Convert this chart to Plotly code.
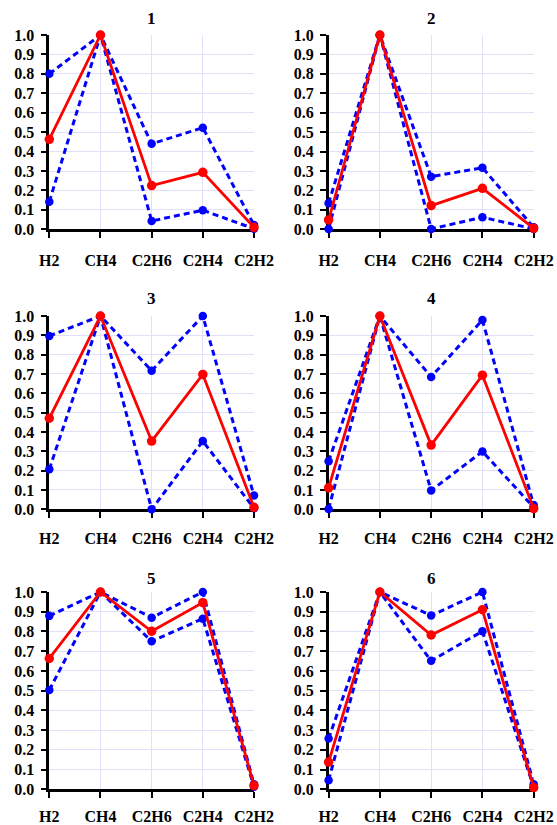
import plotly.graph_objects as go

categories = ["H2", "CH4", "C2H6", "C2H4", "C2H2"]
panel_titles = ["1", "2", "3", "4", "5", "6"]
y_ticks = [0.0, 0.1, 0.2, 0.3, 0.4, 0.5, 0.6, 0.7, 0.8, 0.9, 1.0]

# panel 1
mean_1 = [0.463, 1.0, 0.225, 0.293, 0.010]
upper_1 = [0.800, 1.0, 0.440, 0.523, 0.022]
lower_1 = [0.142, 1.0, 0.043, 0.098, 0.003]
# panel 2
mean_2 = [0.048, 1.0, 0.122, 0.211, 0.005]
upper_2 = [0.134, 1.0, 0.271, 0.317, 0.010]
lower_2 = [0.002, 1.0, 0.002, 0.062, 0.002]
# panel 3
mean_3 = [0.471, 1.0, 0.353, 0.698, 0.010]
upper_3 = [0.897, 1.0, 0.717, 1.000, 0.071]
lower_3 = [0.207, 1.0, 0.000, 0.353, 0.005]
# panel 4
mean_4 = [0.111, 1.0, 0.332, 0.694, 0.004]
upper_4 = [0.249, 1.0, 0.685, 0.979, 0.022]
lower_4 = [0.002, 1.0, 0.097, 0.299, 0.010]
# panel 5
mean_5 = [0.663, 1.0, 0.801, 0.946, 0.019]
upper_5 = [0.879, 1.0, 0.870, 1.000, 0.025]
lower_5 = [0.503, 1.0, 0.750, 0.865, 0.013]
# panel 6
mean_6 = [0.138, 1.0, 0.782, 0.910, 0.009]
upper_6 = [0.257, 1.0, 0.881, 1.000, 0.026]
lower_6 = [0.046, 1.0, 0.651, 0.801, 0.010]

panels = [
    (mean_1, upper_1, lower_1), (mean_2, upper_2, lower_2),
    (mean_3, upper_3, lower_3), (mean_4, upper_4, lower_4),
    (mean_5, upper_5, lower_5), (mean_6, upper_6, lower_6),
]

W, H = 557, 825
col_px = [(49.3, 254.0), (328.6, 533.7)]
row_px = [(35.0, 229.3), (316.0, 509.3), (592.0, 789.3)]
title_y_px = [18, 298, 578]
label_standoff = [9, 7, 5]

FONT = "Liberation Serif, Times New Roman, serif"
GRID = "#e0e0fa"

fig = go.Figure()
layout = dict(
    template="none",
    width=W, height=H, margin=dict(l=0, r=0, t=0, b=0, pad=0, autoexpand=False),
    paper_bgcolor="white", plot_bgcolor="white", showlegend=False,
    font=dict(family=FONT, size=16, color="black"),
    annotations=[],
)

for i, (mean, upper, lower) in enumerate(panels):
    r, c = divmod(i, 2)
    n = i + 1
    xa = "x" if n == 1 else f"x{n}"
    ya = "y" if n == 1 else f"y{n}"
    for vals in (upper, lower):
        fig.add_trace(go.Scatter(
            x=categories, y=vals, xaxis=xa, yaxis=ya, mode="lines+markers",
            line=dict(color="#0000ff", width=3, dash="6px,4px"),
            marker=dict(color="#0000ff", size=8.5, line=dict(width=0)),
            cliponaxis=False,
        ))
    fig.add_trace(go.Scatter(
        x=categories, y=mean, xaxis=xa, yaxis=ya, mode="lines+markers",
        line=dict(color="#ff0000", width=2.8),
        marker=dict(color="#ff0000", size=9.5, line=dict(width=0)),
        cliponaxis=False,
    ))
    x0, x1 = col_px[c]
    y0, y1 = row_px[r]
    xd = [x0 / W, x1 / W]
    yd = [1 - y1 / H, 1 - y0 / H]
    kx = "xaxis" if n == 1 else f"xaxis{n}"
    ky = "yaxis" if n == 1 else f"yaxis{n}"
    layout[kx] = dict(
        domain=xd, anchor=ya, type="category", range=[0, 4],
        tickvals=categories, ticktext=[f"<b>{t}</b>" for t in categories],
        showgrid=True, gridcolor=GRID, gridwidth=1,
        showline=True, linecolor="black", linewidth=2.5,
        ticks="outside", ticklen=6, tickwidth=2, tickcolor="black",
        ticklabelstandoff=label_standoff[r], automargin=False,
        tickfont=dict(family=FONT, size=16, color="black"),
        zeroline=False, fixedrange=True, layer="below traces",
    )
    layout[ky] = dict(
        domain=yd, anchor=xa, range=[0, 1],
        tickvals=y_ticks, ticktext=[f"<b>{v:.1f}</b>" for v in y_ticks],
        showgrid=True, gridcolor=GRID, gridwidth=1,
        showline=True, linecolor="black", linewidth=2.5,
        ticks="outside", ticklen=6, tickwidth=2, tickcolor="black",
        ticklabelstandoff=3, automargin=False,
        tickfont=dict(family=FONT, size=16, color="black"),
        zeroline=False, fixedrange=True, layer="below traces",
    )
    layout["annotations"].append(dict(
        text=f"<b>{panel_titles[i]}</b>", xref="paper", yref="paper",
        x=(xd[0] + xd[1]) / 2, y=1 - title_y_px[r] / H,
        xanchor="center", yanchor="middle", showarrow=False,
        font=dict(family=FONT, size=17, color="black"),
    ))

fig.update_layout(**layout)
fig.write_html(
    "out.html",
    config={"displayModeBar": False},
    post_script="document.body.style.margin='0';document.body.style.padding='0';",
)
